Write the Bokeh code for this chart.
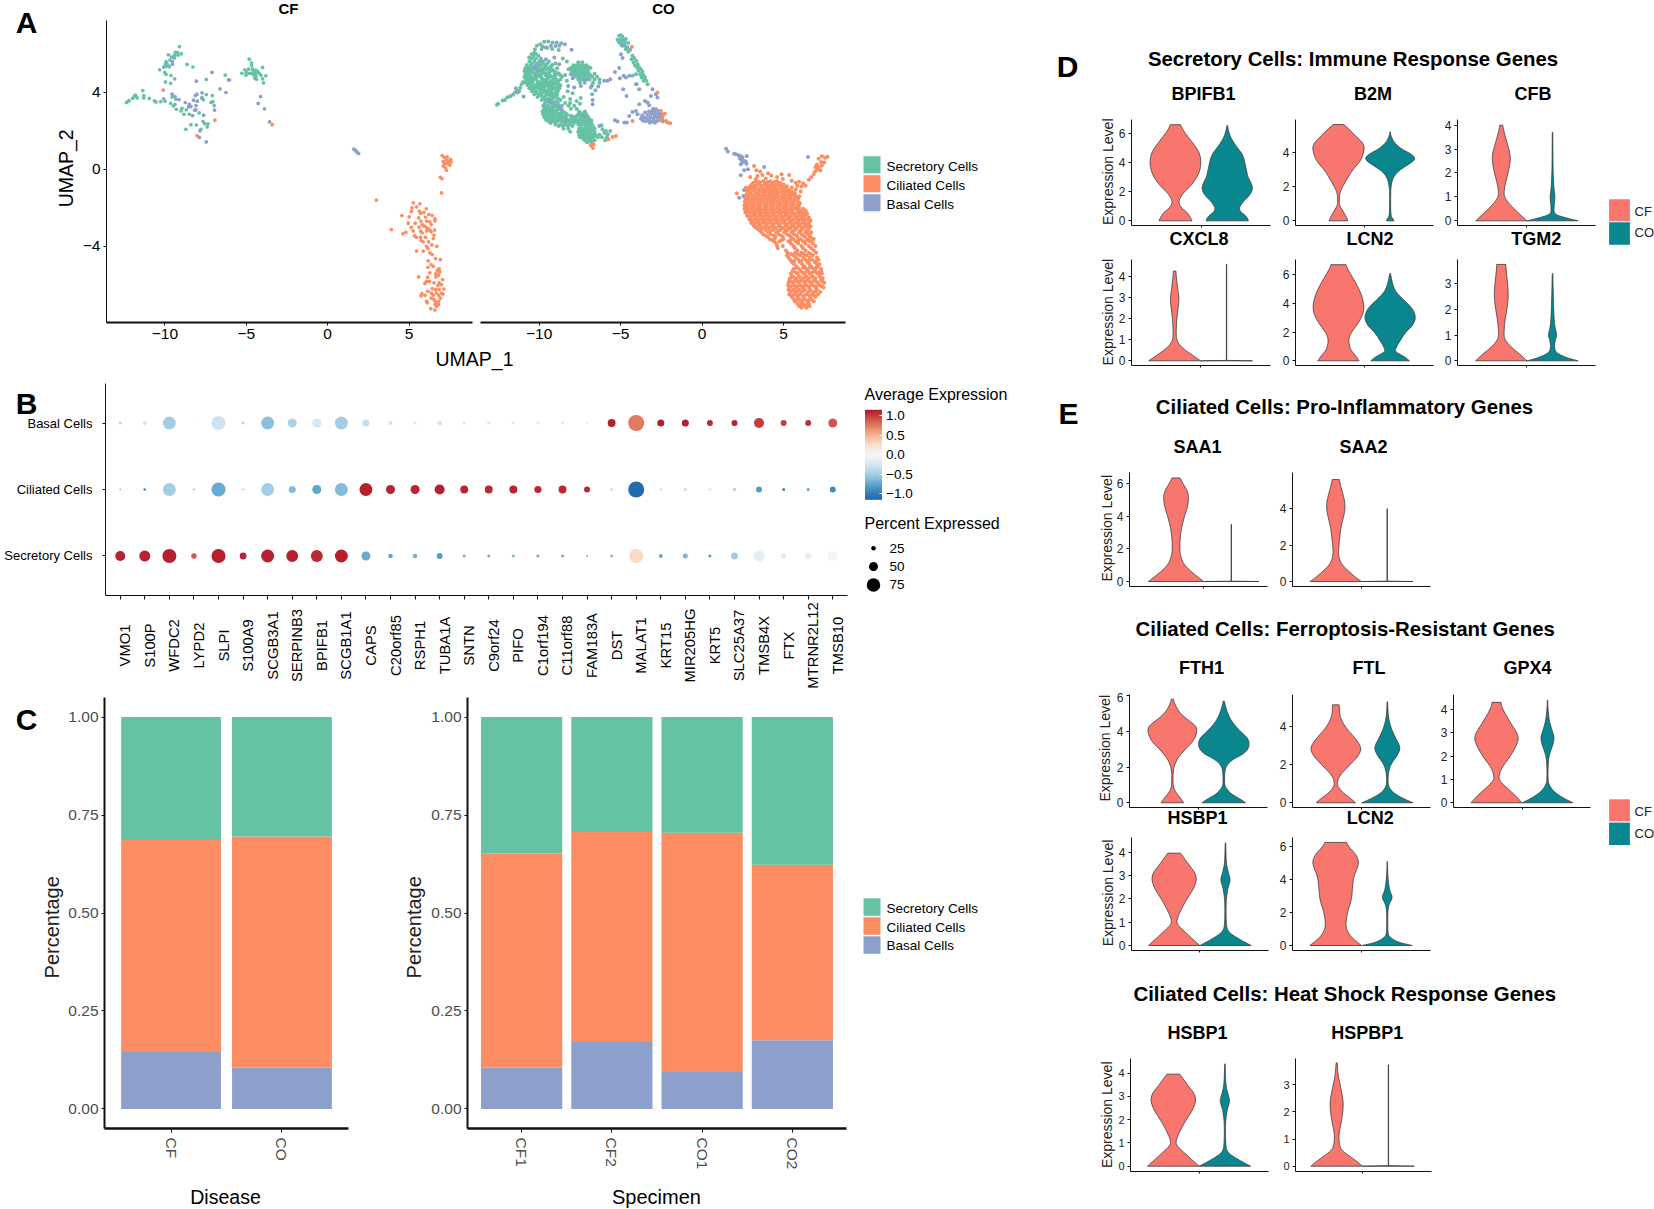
import math
from bokeh.embed import file_html
from bokeh.resources import INLINE
from bokeh.core.properties import value
from bokeh.layouts import column
from bokeh.models import (ColumnDataSource, ColorBar, FactorRange, FixedTicker,
                          LinearColorMapper, NumeralTickFormatter, Range1d)
from bokeh.palettes import RdBu11
from bokeh.plotting import figure

FONT = "Liberation Sans"
GREEN, ORANGE, BLUE = "#66C2A5", "#FC8D62", "#8DA0CB"
CF_COL, CO_COL = "#F8766D", "#0A878E"

# ------------------------------------------------------------ panel A: UMAP cells (UMAP_1, UMAP_2)
cf_secretory = [(-9.11,6.37),(-9.36,6.07),(-9.22,6.07),(-8.99,6.0),(-9.2,5.93),(-9.42,5.92),(-9.6,5.83),(-9.42,5.78),
 (-9.69,5.67),(-9.93,5.6),(-9.89,5.5),(-9.97,5.46),(-9.83,5.41),(-9.73,5.33),(-9.93,5.34),(-8.64,5.45),(-8.28,5.31),
 (-10.32,5.17),(-10.01,5.03),(-9.93,4.93),(-9.63,4.87),(-9.97,4.54),(-9.65,4.47),(-7.46,4.67),(-6.29,4.89),
 (-12.37,3.47),(-12.28,3.52),(-12.2,3.57),(-11.98,3.69),(-11.88,3.81),(-11.81,3.85),(-11.71,3.71),(-11.36,4.09),
 (-11.3,3.83),(-11.3,3.71),(-10.96,3.68),(-10.65,3.55),(-10.55,3.5),(-10.26,3.52),(-9.99,3.54),(-9.56,3.75),
 (-9.65,3.43),(-9.48,3.29),(-9.38,3.38),(-9.3,3.12),(-8.95,3.17),(-9.01,3.03),(-8.83,2.86),(-8.69,3.09),(-8.5,2.86),
 (-7.89,2.93),(-7.46,3.88),(-7.09,3.83),(-7.17,3.47),(-7.05,3.52),(-7.72,3.73),(-7.64,3.61),(-7.66,2.48),(-7.56,2.37),
 (-7.36,2.36),(-7.4,2.2),(-8.4,2.32),(-8.07,2.3),(-7.79,2.08),(-8.71,2.08),(-4.82,5.72),(-4.68,5.52),(-4.68,5.39),
 (-4.0,5.29),(-5.09,5.17),(-5.27,4.99),(-5.0,5.03),(-4.86,5.2),(-4.82,4.99),(-4.62,5.2),(-4.51,5.12),(-4.41,5.15),
 (-4.31,5.08),(-4.57,5.03),(-4.72,4.98),(-4.45,4.98),(-4.21,4.99),(-4.55,4.91),(-4.41,4.86),(-4.1,4.89),(-3.8,4.86),
 (-4.47,4.73),(-4.37,4.68),(-4.0,4.7),(-3.94,4.49),(-5.02,4.89)]
cf_basal = [(-9.79,5.95),(-9.54,5.6),(-9.54,5.46),(-10.08,5.31),(-9.4,4.7),(-8.07,4.58),(-7.11,5.03),(-6.09,4.65),(-6.03,4.65),
 (-6.62,4.18),(-6.25,3.99),(-9.56,3.9),(-10.08,3.66),(-9.38,3.78),(-9.32,3.64),(-9.13,3.62),(-7.72,3.97),(-8.03,3.9),
 (-8.13,3.83),(-8.24,3.59),(-8.01,3.54),(-7.72,3.69),(-8.75,3.47),(-8.5,3.38),(-8.4,3.26),(-8.54,3.24),(-8.09,3.31),
 (-8.17,3.07),(-8.09,3.09),(-8.3,2.79),(-7.62,2.81),(-6.97,3.31),(-6.95,3.07),(-7.85,1.99),(-7.89,1.66),(-7.46,1.42),
 (-4.12,3.78),(-4.27,3.42),(-3.88,3.14),(-3.57,2.46),(1.6,1.05),(1.7,1.0),(1.75,.95),(1.8,.9),(1.85,.85),(1.9,.82)]
cf_ciliated = [(-10.1,4.11),(-6.93,2.55),(-8.03,1.75),(-3.41,2.32),(7.04,.71),(7.18,.61),(7.34,.64),(7.55,.52),(7.45,.43),
 (7.3,.47),(7.1,.4),(7.59,.38),(7.38,.29),(7.18,.29),(7.51,.22),(7.1,.17),(7.24,.08),(7.3,-.05),(6.93,-.42),(7.02,-.49),
 (7.0,-1.23),(2.99,-1.6),(5.26,-1.74),(5.67,-1.79),(5.46,-1.95),(5.18,-2.0),(6.06,-2.05),(5.14,-2.19),(5.63,-2.17),
 (5.71,-2.28),(5.91,-2.24),(4.56,-2.4),(5.01,-2.47),(6.22,-2.35),(6.42,-2.4),(5.59,-2.52),(6.01,-2.48),(6.59,-2.57),
 (5.73,-2.69),(6.08,-2.69),(6.28,-2.73),(6.59,-2.68),(4.95,-2.8),(5.38,-2.8),(5.81,-2.87),(5.91,-2.94),(6.36,-2.87),
 (5.14,-3.02),(5.61,-3.0),(6.04,-3.0),(6.16,-3.07),(6.28,-3.16),(3.91,-3.13),(5.26,-3.2),(5.71,-3.21),(6.08,-3.21),
 (6.36,-3.25),(6.57,-3.16),(4.81,-3.27),(4.62,-3.35),(5.81,-3.3),(5.34,-3.46),(5.46,-3.53),(5.71,-3.53),(6.01,-3.53),
 (6.53,-3.42),(6.49,-3.6),(5.75,-3.7),(5.87,-3.77),(6.2,-3.77),(6.08,-4.0),(6.4,-3.93),(6.71,-4.0),(6.16,-4.12),
 (5.46,-4.25),(5.87,-4.25),(6.28,-4.34),(6.42,-4.43),(6.63,-4.64),(6.93,-4.69),(6.18,-4.76),(6.36,-4.95),(6.49,-5.04),
 (6.16,-5.09),(6.85,-5.16),(6.73,-5.26),(6.89,-5.33),(6.28,-5.38),(6.63,-5.43),(6.81,-5.5),(5.59,-5.59),(6.65,-5.59),
 (6.14,-5.61),(7.06,-5.73),(6.08,-5.82),(6.26,-5.82),(5.97,-5.94),(6.53,-5.9),(6.85,-5.9),(6.77,-6.04),(6.98,-5.99),
 (7.14,-6.22),(6.42,-6.2),(6.63,-6.25),(6.85,-6.25),(6.16,-6.34),(6.38,-6.43),(7.0,-6.43),(5.79,-6.46),(5.73,-6.58),
 (5.99,-6.55),(6.49,-6.55),(6.69,-6.43),(6.83,-6.55),(7.08,-6.48),(6.36,-6.69),(6.53,-6.77),(6.93,-6.69),(6.08,-6.86),
 (6.63,-6.89),(6.83,-6.86),(6.12,-6.93),(6.61,-7.03),(6.81,-7.03),(6.69,-7.12),(6.34,-7.24),(6.59,-7.31)]

co_secretory_rows = [
 (5.6,[-10.6,-10.3,-10.0,-9.75,-9.4]),(5.42,[-10.75,-10.5,-10.2,-9.9,-9.6,-9.2]),(5.25,[-10.85,-10.6,-10.4,-10.15,-9.75,-9.45,-8.9]),
 (5.1,[-10.9,-10.7,-10.5,-10.0,-9.8,-9.3,-9.1]),(4.97,[-10.85,-10.65,-10.25,-9.85,-9.65,-9.45,-9.05,-8.8]),
 (4.82,[-10.9,-10.7,-10.3,-10.1,-9.9,-9.5,-9.3,-9.1,-8.6]),(4.66,[-10.8,-10.6,-10.4,-10.2,-9.75,-9.55,-9.15,-8.95,-8.7]),
 (4.5,[-10.85,-10.65,-10.4,-9.95,-9.7,-9.45,-9.2,-9.0]),(4.37,[-10.7,-10.25,-10.0,-9.75,-9.5,-9.25,-8.7]),
 (4.21,[-10.6,-10.3,-10.05,-9.8,-9.3,-9.05,-8.75]),(4.06,[-10.45,-10.2,-9.9,-9.65,-9.4,-8.85]),(3.9,[-10.3,-10.0,-9.45,-9.15,-8.9]),
 (3.76,[-10.1,-9.75,-9.2,-8.95,-8.5]),(3.6,[-9.85,-9.6,-9.3,-8.7]),(3.45,[-9.65,-9.35,-9.1,-8.85,-8.4,-8.1]),
 (3.3,[-9.75,-9.5,-9.0,-8.6,-8.2,-7.85]),(3.15,[-9.7,-9.5,-9.25,-8.75,-8.05,-7.7]),(3.0,[-9.8,-9.55,-9.3,-9.05,-8.55,-7.55,-7.2]),
 (2.86,[-9.75,-9.5,-9.25,-8.8,-8.3,-7.6,-7.35,-7.1]),(2.71,[-9.7,-9.45,-9.2,-8.95,-8.7,-8.45,-7.9,-7.5,-7.25,-7.0]),
 (2.55,[-9.55,-9.3,-9.05,-8.75,-8.5,-8.2,-7.9,-7.6,-7.3,-7.05,-6.8]),(2.41,[-9.3,-9.0,-8.45,-8.15,-7.85,-7.55,-7.3,-7.05,-6.8]),
 (2.25,[-8.8,-8.55,-8.25,-7.95,-7.45,-7.15,-6.9,-6.7]),(2.1,[-8.5,-8.2,-7.55,-7.3,-7.05,-6.85,-6.6]),(1.95,[-8.1,-7.6,-7.35,-7.1,-6.85,-6.6]),
 (1.8,[-7.55,-7.3,-7.05,-6.8,-6.55,-6.3,-5.8]),(1.66,[-7.5,-7.2,-6.95,-6.7,-6.4,-6.15,-5.85]),(1.51,[-7.2,-6.9,-6.6,-5.95]),(1.4,[-7.05,-6.8]),
 (5.56,[-7.6,-7.35]),(5.41,[-7.9,-7.7,-7.5,-7.3,-7.1]),(5.26,[-8.05,-7.85,-7.65,-7.45,-7.25,-7.05,-6.85]),(5.11,[-8.0,-7.8,-7.6,-7.4,-7.2,-7.0]),
 (4.96,[-7.95,-7.75,-7.55,-7.35,-7.15,-6.95,-6.6]),(4.81,[-7.85,-7.65,-7.45,-7.25,-7.05,-6.75,-6.45]),(4.66,[-7.6,-7.4,-7.15,-6.9,-6.6,-6.3]),
 (4.5,[-7.5,-7.2,-6.7,-6.3]),(4.36,[-6.75]),
 (6.05,[-10.3]),(5.9,[-10.35,-10.05]),(5.75,[-10.45,-10.2,-9.9]),(5.5,[-10.45,-10.1,-9.8,-9.5,-9.0]),(5.33,[-10.7,-10.3,-10.0,-9.65,-9.3]),
 (5.18,[-10.8,-10.55,-10.25,-9.9,-9.55,-9.2]),(5.03,[-10.75,-10.4,-10.1,-9.7,-9.4,-8.95]),(4.89,[-10.8,-10.55,-10.2,-10.0,-9.6,-9.35,-9.0,-8.7]),
 (4.74,[-10.85,-10.5,-10.3,-9.85,-9.45,-9.05]),(4.58,[-10.75,-10.5,-10.1,-9.85,-9.6,-9.3,-8.85]),(4.44,[-10.55,-10.1,-9.85,-9.6,-9.35,-9.1,-8.85]),
 (4.29,[-10.45,-10.15,-9.9,-9.65,-9.4,-9.15,-8.9]),(4.13,[-10.4,-9.95,-9.7,-9.45,-9.2,-8.95]),(3.98,[-10.15,-9.8,-9.55,-9.25,-9.0]),
 (3.83,[-9.9,-9.6,-9.3,-9.05]),(3.68,[-9.7,-9.45,-9.15,-8.85]),(3.52,[-9.5,-9.2,-8.95]),(3.22,[-9.6,-9.35,-9.1,-8.85]),
 (3.08,[-9.65,-9.4,-9.15,-8.9,-8.65]),(2.93,[-9.65,-9.4,-9.15,-8.9,-8.65,-8.4,-7.45,-7.2]),(2.78,[-9.6,-9.35,-9.05,-8.8,-8.55,-8.3,-8.05,-7.7,-7.4,-7.15]),
 (2.63,[-9.6,-9.4,-9.15,-8.85,-8.6,-8.35,-8.05,-7.75,-7.45,-7.2,-6.95]),(2.48,[-9.4,-9.15,-8.9,-8.6,-8.3,-8.0,-7.7,-7.45,-7.2,-6.95]),
 (2.33,[-9.0,-8.7,-8.4,-8.1,-7.6,-7.3,-7.0]),(2.02,[-7.45,-7.2,-6.95,-6.7]),(1.87,[-7.4,-7.15,-6.9,-6.65]),(1.73,[-7.35,-7.1,-6.85,-6.55]),
 (1.58,[-7.3,-7.05,-6.8]),(5.33,[-7.8,-7.6,-7.4,-7.2,-7.0]),(5.18,[-7.95,-7.7,-7.5,-7.3,-7.1]),(5.03,[-7.9,-7.65,-7.45,-7.25,-7.05]),
 (4.88,[-7.7,-7.5,-7.3,-7.1,-6.85]),(4.73,[-7.5,-7.3,-7.0])]
co_secretory_extra = [(-12.59,3.35),(-12.51,3.41),(-12.24,3.57),(-12.1,3.6),(-11.94,3.74),(-11.77,3.8),(-11.61,3.87),(-11.49,3.99),
 (-11.36,4.06),(-11.22,4.07),(-11.16,4.23),(-11.08,4.42),(-10.98,4.54),(-10.26,6.24),(-10.14,6.42),(-9.93,6.5),(-9.69,6.63),
 (-9.44,6.64),(-9.18,6.59),(-10.46,5.98),(-10.61,5.81),(-10.2,6.0),(-9.85,6.25),(-9.5,6.3),(-9.2,6.25),(-9.0,6.4),(-8.8,6.2),
 (-8.65,6.55),(-8.3,5.6),(-8.55,5.75),(-8.2,5.2),(-8.4,4.9),(-8.3,4.6),(-8.25,4.05),(-7.95,3.95),(-8.1,3.65),(-7.45,3.7),(-7.5,3.4),
 (-6.75,3.9),(-6.55,4.1),(-7.7,3.55),(-5.09,6.94),(-4.98,6.97),(-4.88,6.89),(-5.19,6.73),(-5.03,6.73),(-4.84,6.73),(-4.68,6.77),
 (-5.09,6.59),(-4.92,6.59),(-4.74,6.59),(-4.53,6.56),(-4.94,6.45),(-4.74,6.42),(-4.68,6.24),(-4.53,6.1),(-4.41,6.21),(-4.27,5.9),
 (-4.33,5.72),(-4.17,5.78),(-4.21,5.55),(-4.04,5.64),(-4.12,5.41),(-3.96,5.46),(-3.86,5.29),(-4.0,5.29),(-3.76,5.2),(-3.9,5.12),
 (-3.66,5.06),(-3.8,4.94),(-3.59,4.89),(-3.72,4.77),(-3.51,4.77),(-3.59,4.6),(-3.43,4.6),(-3.35,4.42),(-4.06,4.94),(-4.27,4.86),
 (-4.02,4.42),(-6.17,2.29),(-6.0,1.9),(-5.9,1.99),(-5.64,1.99),(-5.8,1.82),(-6.11,2.08),(4.15,-1.0)]
co_basal = [(-9.79,6.38),(-9.59,6.33),(-9.28,6.42),(-8.93,6.59),(-8.77,6.42),(-8.42,6.5),(-8.01,6.21),(-9.89,5.64),(-9.59,5.72),
 (-9.07,5.81),(-10.2,5.29),(-10.1,5.12),(-8.77,5.46),(-8.05,4.94),(-7.95,4.73),(-8.22,4.33),(-7.23,4.6),(-7.03,4.68),(-7.44,4.33),
 (-7.85,4.25),(-6.83,4.25),(-6.37,4.3),(-6.01,4.6),(-5.8,4.6),(-5.64,4.68),(-5.09,5.26),(-5.35,5.06),(-5.05,4.73),(-4.82,4.86),
 (-4.68,4.77),(-4.47,4.86),(-4.84,4.16),(-4.64,3.81),(-4.88,6.42),(-4.58,6.33),(-4.98,5.98),(-4.88,5.78),(-11.43,4.21),(-11.32,3.99),
 (-10.96,3.78),(-9.42,3.55),(-9.18,3.35),(-8.77,3.29),(-8.62,3.12),(-6.72,3.38),(-6.72,3.6),(-7.23,2.77),(-8.36,2.51),(-6.31,2.25),
 (-5.35,2.55),(-5.19,2.48),(-4.78,2.43),(-4.62,2.43),(-4.47,2.77),(-4.27,2.98),(-4.06,3.03),(-3.96,2.86),(-3.86,3.38),(-3.51,3.55),
 (-3.35,3.47),(-3.25,3.33),(-3.14,3.81),(-2.84,3.9),(-2.74,3.73),(-3.86,4.16),(-4.06,4.42),(-3.04,4.16),
 (-3.75,2.62),(-3.68,2.8),(-3.62,2.52),(-3.55,2.7),(-3.5,2.95),(-3.45,2.5),(-3.38,2.62),(-3.33,2.82),(-3.26,3.0),(-3.22,2.52),
 (-3.16,2.7),(-3.1,2.88),(-3.05,3.05),(-3.02,2.48),(-2.98,2.62),(-2.92,2.78),(-2.88,2.95),(-2.82,3.12),(-2.8,2.5),(-2.76,2.68),
 (-2.7,2.85),(-2.66,3.02),(-2.62,2.55),(-2.58,2.72),(-2.52,2.9),(-2.46,2.6),(-2.42,2.48),(-3.0,3.15),(-3.2,2.42),(-2.9,2.42),
 (1.47,1.07),(1.58,.92),(1.96,.81),(2.07,.78),(2.23,.73),(2.37,.69),(2.31,.57),(2.48,.61),(2.43,.47),(2.58,.43),(2.68,.4),(2.48,.35),
 (2.72,.29),(2.37,.26),(2.82,-.0),(2.58,-.05),(2.74,.69),(2.37,-.31),(3.81,.12),(6.5,.64),(2.58,-1.08),(2.54,-1.39),(2.27,-1.48)]
co_ciliated_rows = [
 (-.62,[3.3,3.75,4.2,4.6]),(-.7,[3.15,3.55,3.95,4.4,4.8]),(-.79,[3.05,3.4,3.85,4.25,4.65,5.0]),(-.88,[2.95,3.3,3.7,4.1,4.5,4.9,5.2]),
 (-.97,[2.85,3.15,3.55,3.95,4.35,4.75,5.1]),(-1.06,[2.8,3.05,3.45,3.8,4.2,4.6,5.0,5.3]),(-1.15,[2.75,3.2,3.6,4.0,4.4,4.85,5.2,5.5]),
 (-1.24,[2.95,3.35,3.75,4.15,4.55,4.95,5.35,5.7]),(-1.33,[2.7,3.1,3.5,3.9,4.3,4.7,5.1,5.5]),(-1.42,[2.85,3.25,3.65,4.05,4.45,4.9,5.3,5.75]),
 (-1.51,[2.65,3.05,3.45,3.85,4.25,4.65,5.05,5.45,5.9]),(-1.6,[2.85,3.2,3.6,4.0,4.4,4.8,5.2,5.65]),(-1.69,[2.62,3.0,3.4,3.8,4.2,4.6,5.0,5.4,5.85]),
 (-1.78,[2.8,3.2,3.6,4.0,4.4,4.8,5.2,5.6,6.0]),(-1.87,[2.6,3.0,3.4,3.8,4.2,4.6,5.0,5.4,5.8]),(-1.96,[2.78,3.18,3.58,3.98,4.38,4.78,5.18,5.58,5.95]),
 (-2.05,[2.6,2.98,3.38,3.78,4.18,4.58,4.98,5.38,5.75,6.2]),(-2.14,[2.8,3.2,3.6,4.0,4.4,4.8,5.2,5.55,6.05,6.35]),(-2.23,[2.65,3.0,3.4,3.8,4.2,4.6,5.0,5.4,5.85,6.25]),
 (-2.32,[2.85,3.25,3.65,4.05,4.45,4.85,5.25,5.7,6.1,6.45]),(-2.41,[2.75,3.1,3.5,3.9,4.3,4.7,5.1,5.5,5.95,6.3]),(-2.5,[2.95,3.35,3.75,4.15,4.55,4.95,5.35,5.8,6.2,6.55]),
 (-2.59,[2.9,3.2,3.6,4.0,4.4,4.8,5.2,5.6,6.05,6.4]),(-2.68,[3.05,3.45,3.85,4.25,4.65,5.05,5.5,5.9,6.3,6.65]),(-2.78,[3.0,3.3,3.7,4.1,4.5,4.9,5.35,5.75,6.15,6.55]),
 (-2.87,[3.15,3.55,3.95,4.35,4.75,5.2,5.6,6.0,6.45]),(-2.96,[3.2,3.45,3.85,4.25,4.7,5.1,5.5,5.9,6.3,6.65]),(-3.06,[3.35,3.7,4.1,4.5,5.0,5.4,5.8,6.2,6.55]),
 (-3.16,[3.5,3.9,4.35,4.8,5.25,5.7,6.1,6.5]),(-3.27,[3.65,4.05,4.55,5.05,5.5,5.95,6.35,6.7]),(-3.38,[3.75,4.2,4.7,5.2,5.65,6.1,6.5]),
 (-3.5,[4.0,4.5,4.95,5.45,5.85,6.3,6.65]),(-3.62,[4.15,4.45,5.0,5.6,6.05,6.5,6.85]),(-3.74,[4.4,4.75,5.3,5.75,6.2,6.6]),(-3.86,[4.55,5.45,5.9,6.35,6.8]),
 (-3.98,[4.6,4.95,5.6,6.1,6.55,6.95]),(-4.1,[4.65,5.7,6.2,6.7]),(-4.22,[5.15,5.85,6.35,6.85]),(-4.34,[5.25,5.7,6.1,6.55,7.0]),(-4.46,[5.2,5.6,6.0,6.4,6.8]),
 (-4.58,[5.3,5.75,6.2,6.6,7.05]),(-4.7,[5.4,5.9,6.35,6.75,7.15]),(-4.82,[5.5,6.0,6.45,6.9]),(-4.94,[5.65,6.15,6.6,7.05,7.2]),(-5.06,[5.8,6.3,6.7,7.1]),
 (-5.18,[5.6,5.95,6.4,6.85,7.3]),(-5.3,[5.55,6.05,6.5,6.95,7.3]),(-5.42,[5.45,5.85,6.2,6.6,7.05,7.35]),(-5.54,[5.5,5.95,6.35,6.75,7.2]),
 (-5.66,[5.4,5.8,6.2,6.55,6.95,7.4]),(-5.78,[5.35,5.7,6.05,6.45,6.85,7.3]),(-5.9,[5.3,5.6,5.95,6.3,6.7,7.1,7.5]),(-6.02,[5.28,5.65,6.05,6.4,6.8,7.2]),
 (-6.14,[5.35,5.75,6.15,6.55,6.95,7.45]),(-6.26,[5.3,5.6,5.95,6.3,6.65,7.05]),(-6.38,[5.4,5.75,6.1,6.5,6.85,7.25]),(-6.5,[5.35,5.65,6.0,6.4,6.75,7.1]),
 (-6.62,[5.5,5.85,6.2,6.6,6.95]),(-6.74,[5.6,5.95,6.3,6.7]),(-6.86,[5.7,6.05,6.45,6.85]),(-6.98,[5.85,6.2,6.55]),(-7.1,[5.95,6.3,6.6]),(-7.2,[6.1,6.4]),
 (-.66,[3.5,4.05,4.45]),(-.84,[3.2,3.6,4.0,4.4,4.8]),(-1.01,[2.95,3.3,3.7,4.1,4.5,4.95]),(-1.19,[2.9,3.45,3.85,4.25,4.65,5.05,5.4]),
 (-1.37,[2.85,3.3,3.7,4.1,4.55,5.3,5.65]),(-1.55,[2.8,3.25,3.65,4.05,4.45,4.85,5.25,5.7]),(-1.73,[2.75,3.15,3.55,3.95,4.35,4.75,5.15,5.55,5.95]),
 (-1.91,[2.7,3.1,3.5,3.9,4.3,4.7,5.1,5.5,5.9]),(-2.09,[2.72,3.1,3.5,3.9,4.3,4.7,5.1,5.45,5.9]),(-2.27,[2.75,3.15,3.55,3.95,4.35,4.75,5.15,5.55,6.0,6.4]),
 (-2.45,[2.9,3.3,3.7,4.1,4.5,4.9,5.3,5.75,6.15]),(-2.63,[3.0,3.4,3.8,4.2,4.6,5.0,5.4,5.85,6.25,6.6]),(-2.82,[3.1,3.5,3.9,4.3,4.7,5.1,5.5,5.9,6.3]),
 (-3.01,[3.3,3.65,4.05,4.45,4.85,5.3,5.7,6.1,6.5]),(-3.21,[3.6,4.2,4.65,5.1,5.55,6.0,6.4]),(-3.44,[3.9,4.4,4.85,5.35,5.8,6.2,6.6]),(-3.68,[4.3,4.9,5.45,5.9,6.4,6.75]),
 (-4.4,[5.45,5.85,6.25,6.65]),(-4.76,[5.65,6.1,6.55,7.0]),(-5.12,[5.8,6.2,6.6,7.0]),(-5.36,[5.75,6.3,6.75,7.15]),(-5.6,[5.6,6.0,6.4,6.8,7.25]),
 (-5.84,[5.5,5.85,6.25,6.6,7.0,7.4]),(-6.08,[5.45,5.85,6.25,6.6,7.0,7.35]),(-6.32,[5.5,5.85,6.2,6.6,7.0]),(-6.56,[5.5,5.85,6.25,6.6,6.9]),(-6.8,[5.8,6.15,6.55]),(-7.04,[6.05,6.45])]
co_ciliated_extra = [(-6.83,1.24),(-6.66,1.3),(-6.7,1.1),(-5.76,1.56),(-5.5,1.68),(-5.29,1.73),(-4.31,6.37),(-4.27,2.51),(-2.74,3.99),
 (-2.53,3.03),(-2.29,2.89),(-2.43,2.74),(-2.53,2.56),(-2.22,2.51),(-2.12,2.43),(-1.96,2.39),(3.19,.17),(3.33,-.05),(3.56,-.12),(4.05,-.21),
 (4.87,-.26),(5.34,-.3),(2.95,-.4),(3.4,-.35),(3.7,-.3),(4.25,-.32),(4.6,-.4),(3.3,-.5),(3.9,-.48),(4.95,-.5),(5.5,-.6),(5.75,-.7),(5.95,-.65),
 (6.2,-.72),(5.85,-.85),(6.1,-.9),(6.35,-.85),(5.5,-.95),(5.75,-1.05),(6.05,-1.15),(5.6,-1.25),(5.95,-1.4),(2.13,-1.25),(2.68,-.96),(6.55,-.55),
 (6.7,-.4),(6.85,-.25),(6.95,-.1),(7.1,0),(6.95,.12),(7.05,.25),(7.3,.38),(7.15,.55),(7.35,.68),(7.55,.6),(7.7,.65),(7.5,.35),(7.35,.2),(7.15,.1),(7.25,-.05)]

# ------------------------------------------------------------ panel B: dot plot
genes = ["VMO1","S100P","WFDC2","LYPD2","SLPI","S100A9","SCGB3A1","SERPINB3","BPIFB1","SCGB1A1","CAPS","C20orf85","RSPH1","TUBA1A",
         "SNTN","C9orf24","PIFO","C1orf194","C11orf88","FAM183A","DST","MALAT1","KRT15","MIR205HG","KRT5","SLC25A37","TMSB4X","FTX",
         "MTRNR2L12","TMSB10"]
cell_types = ["Secretory Cells", "Ciliated Cells", "Basal Cells"]
secretory_pct = [56,61,78,30,78,38,72,66,66,72,50,25,25,33,17,17,17,17,17,11,17,78,22,28,17,39,61,33,33,56]
secretory_avg = [1.1,1.1,1.12,.9,1.12,1.1,1.12,1.12,1.08,1.12,-.72,-.75,-.68,-.8,-.68,-.7,-.65,-.7,-.7,-.65,-.62,.3,-.75,-.65,-.82,-.5,-.15,-.15,-.15,-.03]
ciliated_pct = [11,17,72,11,78,11,72,39,50,72,72,50,50,56,44,44,44,40,44,33,17,89,17,17,17,17,33,17,17,33]
ciliated_avg = [-.6,-.75,-.5,-.6,-.72,-.5,-.5,-.62,-.75,-.62,1.12,1.1,1.1,1.12,1.1,1.08,1.1,1.08,1.08,1.08,-.3,-1.12,-.2,-.35,-.2,-.5,-.8,-.9,-.75,-.9]
basal_pct = [17,22,72,11,78,17,72,50,50,72,39,22,17,28,17,17,17,17,17,11,44,89,39,39,33,33,56,33,33,50]
basal_avg = [-.4,-.3,-.5,-.05,-.3,-.4,-.6,-.45,-.25,-.5,-.35,-.3,-.25,-.25,-.25,-.25,-.25,-.22,-.22,-.2,1.12,.75,1.12,1.12,1.08,1.12,1.0,1.0,1.05,.9]
pct_legend = [25, 50, 75]
exp_ticks = [-1.0, -0.5, 0.0, 0.5, 1.0]

# ------------------------------------------------------------ panel C: cell-type fractions
diseases = ["CF", "CO"]
disease_basal = [.145, .106]
disease_ciliated = [.541, .589]
disease_secretory = [.314, .305]
specimens = ["CF1", "CF2", "CO1", "CO2"]
specimen_basal = [.1055, .171, .094, .175]
specimen_ciliated = [.5465, .536, .611, .448]
specimen_secretory = [.348, .293, .295, .377]

# ------------------------------------------------------------ panels D, E: violin outlines (expression level, relative width)
BPIFB1_CF = [(0,.64),(.5,.5),(.9,.22),(1.25,.12),(1.6,.18),(2,.35),(2.5,.65),(3.3,.93),(4.1,1),(4.8,.9),(5.5,.6),(6.2,.3),(6.6,.2)]
BPIFB1_CO = [(0,.82),(.3,.75),(.75,.42),(1.3,.6),(1.7,.85),(2.2,1),(2.7,.9),(3,.8),(3.5,.74),(4.5,.62),(5,.4),(5.5,.2),(6,.07),(6.55,.01)]
B2M_CF = [(0,.37),(.3,.28),(.8,.08),(1,.03),(1.5,.03),(1.9,.12),(2.5,.35),(3,.55),(3.5,.85),(4,.98),(4.5,1),(5,.65),(5.4,.4),(5.65,.21)]
B2M_CO = [(0,.15),(.1,.12),(.3,.02),(1.5,.02),(2,.03),(2.5,.1),(2.9,.3),(3.2,.6),(3.6,1),(3.9,.85),(4.2,.45),(4.6,.15),(5,.03),(5.22,.01)]
CFB_CF = [(0,1),(.3,.7),(.6,.4),(.9,.17),(1.1,.1),(1.5,.14),(2,.27),(2.6,.37),(3,.3),(3.5,.16),(3.9,.07),(4,.06)]
CFB_CO = [(0,1),(.1,.6),(.25,.12),(.4,.05),(.7,.07),(1,.1),(1.3,.06),(1.8,.03),(2.5,.015),(3.7,.01)]
CXCL8_CF = [(0,1),(.3,.65),(.6,.3),(.9,.1),(1.2,.05),(2,.08),(2.9,.18),(3.4,.12),(4,.06),(4.25,.05)]
CXCL8_CO = [(0,1),(.02,.006),(4.58,.006)]
LCN2_D_CF = [(0,.8),(.4,.65),(.8,.45),(1.5,.38),(2,.5),(2.7,.8),(3.5,1),(4.3,.95),(5,.8),(5.8,.55),(6.5,.32),(6.7,.3)]
LCN2_D_CO = [(0,.75),(.3,.55),(.6,.22),(.8,.2),(1.3,.35),(2,.6),(2.5,.9),(3.1,1),(3.7,.85),(4.2,.55),(4.8,.22),(5.3,.1),(6.1,.01)]
TGM2_CF = [(0,1),(.2,.8),(.5,.42),(.8,.15),(1,.1),(1.5,.13),(2,.22),(2.5,.28),(3,.25),(3.5,.19),(3.75,.18)]
TGM2_CO = [(0,1),(.1,.6),(.3,.15),(.5,.07),(.8,.1),(1,.18),(1.3,.09),(1.8,.05),(2.5,.03),(3.4,.01)]
SAA1_CF = [(0,1),(.2,.85),(.5,.62),(1,.3),(1.5,.17),(2,.13),(3,.16),(4,.3),(4.6,.42),(5.2,.46),(5.6,.4),(6,.25),(6.35,.15)]
SAA1_CO = [(0,1),(.02,.006),(3.5,.006)]
SAA2_CF = [(0,1),(.2,.8),(.5,.55),(.9,.25),(1.2,.15),(1.5,.1),(2,.12),(3,.2),(3.7,.33),(4.2,.37),(4.7,.3),(5.2,.2),(5.6,.14)]
SAA2_CO = [(0,1),(.02,.006),(4,.006)]
FTH1_CF = [(0,.44),(.2,.35),(.6,.12),(.9,.03),(1.5,.02),(2,.05),(2.5,.2),(3,.5),(3.5,.85),(4.2,1),(4.6,.65),(5,.3),(5.5,.1),(5.8,.04)]
FTH1_CO = [(0,.85),(.2,.65),(.5,.28),(.8,.1),(1,.03),(1.5,.03),(2,.06),(2.4,.3),(2.8,.85),(3.2,1),(3.6,.95),(4,.65),(4.5,.33),(5,.15),(5.5,.05),(5.7,.02)]
FTL_CF = [(0,.77),(.2,.6),(.5,.3),(.8,.1),(1,.05),(1.4,.12),(2,.55),(2.5,.9),(2.9,1),(3.4,.75),(3.9,.4),(4.5,.15),(5.14,.13)]
FTL_CO = [(0,1),(.2,.65),(.5,.25),(.8,.07),(1,.03),(1.5,.03),(2,.12),(2.5,.4),(2.9,.52),(3.4,.32),(4,.12),(4.6,.03),(5.3,.01)]
GPX4_CF = [(0,1),(.3,.75),(.6,.45),(.9,.15),(1.1,.08),(1.5,.2),(2,.55),(2.6,.85),(2.9,.85),(3.2,.68),(3.7,.4),(4.1,.2),(4.3,.18)]
GPX4_CO = [(0,1),(.2,.62),(.5,.22),(.8,.05),(1,.02),(1.5,.02),(2,.05),(2.5,.22),(2.8,.27),(3.1,.18),(3.5,.07),(4,.02),(4.4,.005)]
HSBP1_CF = [(0,1),(.3,.7),(.6,.4),(.9,.12),(1.1,.1),(1.5,.25),(2,.5),(2.5,.8),(3,.9),(3.5,.55),(3.96,.25)]
HSBP1_CO = [(0,1),(.2,.65),(.5,.2),(.7,.06),(1,.03),(1.5,.02),(2,.03),(2.5,.1),(2.8,.2),(3.1,.12),(3.5,.03),(4.4,.01)]
LCN2_E_CF = [(0,1),(.3,.75),(.7,.5),(1.2,.38),(2,.45),(2.8,.62),(3.5,.65),(4.2,.7),(5,.92),(5.5,.8),(6,.5),(6.25,.42)]
LCN2_E_CO = [(0,.97),(.2,.4),(.5,.1),(.7,.03),(1.2,.02),(2,.02),(2.5,.06),(2.9,.22),(3.3,.1),(3.8,.05),(4.3,.02),(5.1,.005)]
HSPBP1_CF = [(0,1),(.2,.75),(.4,.45),(.6,.18),(.8,.1),(1.2,.08),(1.7,.2),(2.3,.27),(2.8,.18),(3.3,.06),(3.8,.02)]
HSPBP1_CO = [(0,1),(.02,.006),(3.73,.006)]

# ------------------------------------------------------------ page frame helpers
PAGE_W, PAGE_H = 1654, 1209
figures = []

def place(fig, left, top):
    """left/top are page pixels of the figure box."""
    fig.styles = {"position": "absolute", "left": f"{left}px", "top": f"{top}px"}
    figures.append(fig)

overlay = figure(width=PAGE_W, height=PAGE_H, x_range=Range1d(0, PAGE_W), y_range=Range1d(PAGE_H+1.2, 1.2),
                 output_backend="svg", toolbar_location=None, min_border=0, outline_line_color=None,
                 border_fill_color=None, background_fill_color=None, frame_align=False)
overlay.xaxis.visible = False
overlay.yaxis.visible = False
overlay.grid.visible = False
place(overlay, 0, 0)

def label(x, y, text, size, bold=False, angle=0, color="#000000", align="center"):
    overlay.text(x=[x], y=[y], text=[text], text_font=value(FONT), text_font_size=value(f"{size}px"),
                 text_font_style="bold" if bold else "normal", text_color=color, angle=angle,
                 text_align=align, text_baseline="middle")

def swatches(x0, x1, y_tops, y_bots, colors):
    overlay.quad(left=x0, right=x1, top=y_tops, bottom=y_bots, fill_color=colors, line_color=None)

def panel(left, right, top, bottom, x_range, y_range, bl=40, bb=30, bt=2, br=4):
    f = figure(frame_width=int(round(right-left)), frame_height=int(round(bottom-top)), x_range=x_range, y_range=y_range,
               output_backend="svg", toolbar_location=None, min_border_left=bl, min_border_right=br,
               min_border_top=bt, min_border_bottom=bb, outline_line_color=None,
               border_fill_color=None, background_fill_color=None, frame_align=False)
    f.grid.visible = False
    place(f, left-bl, top-bt)
    return f

def style_axis(ax, size, color="#000000", line=1.0, tick=3):
    ax.axis_line_color = "#111111"
    ax.axis_line_width = line
    ax.major_tick_line_color = "#111111"
    ax.major_tick_out = tick
    ax.major_tick_in = 0
    ax.minor_tick_line_color = None
    ax.major_label_text_font = FONT
    ax.major_label_text_font_size = f"{size}px"
    ax.major_label_text_color = color
    ax.major_label_standoff = 3

# ------------------------------------------------------------ panel A
def rows_to_points(rows):
    return [(x, y) for y, xs in rows for x in xs]

def umap_panel(left, right, x0, x1, layers, show_y, size):
    p = panel(left, right, 20, 322, Range1d(x0, x1), Range1d(-7.96, 7.73), bl=42 if show_y else 2)
    for pts, col in layers:
        p.scatter([a for a, b in pts], [b for a, b in pts], size=size, fill_color=col, line_color=None)
    p.xaxis.ticker = FixedTicker(ticks=[-10, -5, 0, 5])
    p.xaxis.major_label_overrides = {-10: "\u221210", -5: "\u22125"}
    style_axis(p.xaxis[0], 15.5, line=2.2)
    p.yaxis.ticker = FixedTicker(ticks=[-4, 0, 4])
    p.yaxis.major_label_overrides = {-4: "\u22124"}
    style_axis(p.yaxis[0], 15.5)
    p.yaxis.visible = show_y
    return p

umap_panel(106, 472, -13.59, 8.9, [(cf_secretory, GREEN), (cf_basal, BLUE), (cf_ciliated, ORANGE)], True, 3.7)
umap_panel(480, 845, -13.6, 8.8, [(rows_to_points(co_secretory_rows) + co_secretory_extra, GREEN), (co_basal, BLUE),
                                   (rows_to_points(co_ciliated_rows) + co_ciliated_extra, ORANGE)], False, 4.0)
label(288, 9, "CF", 15, True)
label(663, 9, "CO", 15, True)
label(65, 169, "UMAP_2", 19.5, angle=math.pi/2)
label(474, 360, "UMAP_1", 19.5)
cell_legend = ["Secretory Cells", "Ciliated Cells", "Basal Cells"]
cell_colors = [GREEN, ORANGE, BLUE]
swatches(863, 880, [157, 176, 195], [174, 193, 212], cell_colors)
for yy, t in zip([167, 186, 205], cell_legend):
    label(886, yy, t, 13.5, align="left")
swatches(863, 880, [899, 918, 937], [916.5, 935.5, 954.5], cell_colors)
for yy, t in zip([909, 927.7, 946.6], cell_legend):
    label(886, yy, t, 13.5, align="left")

# ------------------------------------------------------------ panel B
n_pal = 256
def blend_palette(base, n):
    rgb = [tuple(int(c[i:i+2], 16) for i in (1, 3, 5)) for c in base]
    out = []
    for k in range(n):
        t = k/(n-1)*(len(rgb)-1)
        i = min(int(t), len(rgb)-2)
        f = t-i
        out.append("#%02x%02x%02x" % tuple(int(round(rgb[i][j]+(rgb[i+1][j]-rgb[i][j])*f)) for j in range(3)))
    return out

mapper = LinearColorMapper(palette=blend_palette(list(RdBu11)[1:-1], n_pal), low=-1.15, high=1.15)
dot_x = genes*3
dot_y = [c for c in cell_types for _ in genes]
dot_pct = secretory_pct + ciliated_pct + basal_pct
dot_avg = secretory_avg + ciliated_avg + basal_avg
dot_src = ColumnDataSource(dict(gene=dot_x, cell=dot_y, size=[v*0.18 for v in dot_pct], avg=dot_avg))
dp = panel(105, 847, 383, 595, FactorRange(factors=genes, range_padding=0.1, range_padding_units="absolute"),
           FactorRange(factors=cell_types, range_padding=0.094, range_padding_units="absolute"), bl=105, bb=12)
dp.scatter("gene", "cell", size="size", source=dot_src, line_color=None,
           fill_color={"field": "avg", "transform": mapper})
style_axis(dp.yaxis[0], 13)
dp.yaxis.major_label_standoff = 10
style_axis(dp.xaxis[0], 13, line=1.2, tick=4)
dp.xaxis.major_label_text_color = None
dp.xaxis.major_label_text_font_size = "0px"
# gene names: own strip below the dots, on the same factor scale
gp = panel(105, 847, 600, 690, FactorRange(factors=genes, range_padding=0.1, range_padding_units="absolute"), Range1d(0, 1), bl=2, bb=2)
gp.xaxis.visible = False
gp.yaxis.visible = False
gp.text(x=genes, y=[0.5]*len(genes), text=genes, angle=math.pi/2, x_offset=5, text_align="center", text_baseline="middle",
        text_font=value(FONT), text_font_size=value("14.8px"), text_color="#000000")
label(864, 395, "Average Expression", 16, align="left")
label(864, 524, "Percent Expressed", 16, align="left")
cb = ColorBar(color_mapper=mapper, location=(864.5, 1209-499.3), width=17, height=90, padding=0, margin=0,
              ticker=FixedTicker(ticks=exp_ticks), major_label_overrides={-1.0: "\u22121.0", -0.5: "\u22120.5", 0.0: "0.0", 0.5: "0.5", 1.0: "1.0"},
              major_label_text_font=FONT, major_label_text_font_size="13.5px", major_label_text_color="#000000",
              major_tick_line_color="#ffffff", major_tick_out=0, major_tick_in=3, minor_tick_line_color=None,
              bar_line_color=None, border_line_color=None, background_fill_color=None, label_standoff=4)
overlay.add_layout(cb)
overlay.scatter([873]*3, [549, 567.3, 585.6], size=[v*0.18 for v in pct_legend], fill_color="#000000", line_color=None)
for yy, v in zip([549, 567.3, 585.6], pct_legend):
    label(889, yy, str(v), 13.5, align="left")

# ------------------------------------------------------------ panel C
def stacked_panel(left, right, top, bottom, cats, basal, ciliated, secretory, pad):
    p = panel(left, right, top, bottom, FactorRange(factors=cats, range_padding=pad, range_padding_units="absolute"),
              Range1d(-0.05, 1.05), bl=48, bb=50)
    src = ColumnDataSource(dict(cat=cats, basal=basal, ciliated=ciliated, secretory=secretory))
    p.vbar_stack(["basal", "ciliated", "secretory"], x="cat", width=0.9, source=src,
                 fill_color=[BLUE, ORANGE, GREEN], line_color=None)
    p.yaxis.ticker = FixedTicker(ticks=[0, .25, .5, .75, 1])
    p.yaxis.formatter = NumeralTickFormatter(format="0.00")
    style_axis(p.yaxis[0], 15.5, color="#4D4D4D", line=2.0)
    style_axis(p.xaxis[0], 15.5, color="#4D4D4D", line=2.4, tick=4)
    p.xaxis.major_label_orientation = "vertical"
    p.xaxis.major_label_standoff = 5
    return p

stacked_panel(103.6, 347.7, 697, 1127.7, diseases, disease_basal, disease_ciliated, disease_secretory, 0.1)
stacked_panel(467.4, 846, 697, 1128, specimens, specimen_basal, specimen_ciliated, specimen_secretory, 0.1)
label(225, 1198, "Disease", 19.5)
label(656, 1198, "Specimen", 20)
label(51, 928, "Percentage", 20, angle=math.pi/2, color="#222222")
label(413, 928, "Percentage", 20, angle=math.pi/2, color="#222222")

# ------------------------------------------------------------ panels D, E
def smooth(profile, rounds=3):
    pts = list(profile)
    if len(pts) < 4:
        return pts
    for _ in range(rounds):
        out = [pts[0]]
        for a, b in zip(pts[:-1], pts[1:]):
            out.append((.75*a[0]+.25*b[0], .75*a[1]+.25*b[1]))
            out.append((.25*a[0]+.75*b[0], .25*a[1]+.75*b[1]))
        out.append(pts[-1])
        pts = out
    return pts

def violin_panel(left, right, top, bottom, c1, c2, zero, unit, ticks, cf, co, size=12):
    u = c2-c1
    p = panel(left, right, top, bottom, Range1d(1-(c1-left)/u, 2+(right-c2)/u),
              Range1d(-(bottom-zero)/unit, (zero-top)/unit), bl=24, bb=8)
    for center, prof, col in ((1, cf, CF_COL), (2, co, CO_COL)):
        pts = smooth(prof)
        xs = [center-0.5*w for lv, w in pts] + [center+0.5*w for lv, w in reversed(pts)]
        ys = [lv for lv, w in pts] + [lv for lv, w in reversed(pts)]
        p.patch(xs, ys, fill_color=col, line_color="#3a3a3a", line_width=0.8)
    p.yaxis.ticker = FixedTicker(ticks=ticks)
    p.xaxis.ticker = FixedTicker(ticks=[1.5])
    p.xaxis.major_label_overrides = {1.5: ""}
    style_axis(p.yaxis[0], size, color="#222222", line=1.0, tick=3)
    style_axis(p.xaxis[0], size, line=1.2, tick=2)
    return p

# row: (left, right, c1, c2, zero-line, px per unit, ticks, CF, CO)
violin_panel(1131.4, 1270.2, 119.3, 225.7, 1175.3, 1227, 221, 14.62, [0,2,4,6], BPIFB1_CF, BPIFB1_CO)
violin_panel(1294.9, 1433.3, 119.3, 225.7, 1338, 1389.8, 221, 17.1, [0,2,4], B2M_CF, B2M_CO)
violin_panel(1456.9, 1595.3, 119.3, 225.7, 1500.8, 1552.2, 221, 24, [0,1,2,3,4], CFB_CF, CFB_CO)
violin_panel(1130.6, 1269.4, 259.3, 365.7, 1173.7, 1225.5, 361, 21.2, [0,1,2,3,4], CXCL8_CF, CXCL8_CO)
violin_panel(1294.9, 1433.3, 259.3, 365.7, 1338, 1389.8, 361, 14.4, [0,2,4,6], LCN2_D_CF, LCN2_D_CO)
violin_panel(1456.9, 1595.3, 259.3, 365.7, 1500.8, 1552.2, 361, 25.8, [0,1,2,3], TGM2_CF, TGM2_CO)
violin_panel(1129.4, 1267.5, 471.7, 585.7, 1176, 1231.3, 580.7, 16.3, [0,2,4,6], SAA1_CF, SAA1_CO)
violin_panel(1292, 1430, 471.7, 585.7, 1335.3, 1386.7, 580.7, 18.2, [0,2,4], SAA2_CF, SAA2_CO)
violin_panel(1128.6, 1266.3, 694, 806.7, 1171.4, 1222.7, 802, 17.8, [0,2,4,6], FTH1_CF, FTH1_CO)
violin_panel(1292, 1429.8, 694, 806.7, 1335.3, 1386.7, 802, 19, [0,2,4], FTL_CF, FTL_CO)
violin_panel(1453, 1590, 694, 806.7, 1496, 1547, 802, 23.3, [0,1,2,3,4], GPX4_CF, GPX4_CO)
violin_panel(1130.6, 1267.8, 837.3, 950, 1173.3, 1224.7, 945, 23.25, [0,1,2,3,4], HSBP1_CF, HSBP1_CO)
violin_panel(1292, 1429.5, 837.3, 950, 1335, 1386.4, 945, 16.45, [0,2,4,6], LCN2_E_CF, LCN2_E_CO)
violin_panel(1129.8, 1267.5, 1058.3, 1171.3, 1172.5, 1224, 1166, 23.25, [0,1,2,3,4], HSBP1_CF, HSBP1_CO, size=11)
violin_panel(1294.5, 1430.6, 1058.3, 1171.3, 1335.7, 1387.5, 1166, 27.2, [0,1,2,3], HSPBP1_CF, HSPBP1_CO, size=11)

for x, y, t in [(1352.5, 59.3, "Secretory Cells: Immune Response Genes"), (1344, 407.3, "Ciliated Cells: Pro-Inflammatory Genes"),
                (1344.7, 629.3, "Ciliated Cells: Ferroptosis-Resistant Genes"), (1344.3, 994.7, "Ciliated Cells: Heat Shock Response Genes")]:
    label(x, y, t, 20.4, True)
for x, y, t in [(1203, 94.3, "BPIFB1"), (1372.5, 94.3, "B2M"), (1532.5, 94.3, "CFB"), (1198.4, 240, "CXCL8"), (1369.4, 240, "LCN2"),
                (1535.7, 240, "TGM2"), (1196.9, 447.3, "SAA1"), (1363, 447.3, "SAA2"), (1201, 668.3, "FTH1"), (1368.6, 668.3, "FTL"),
                (1527, 668.3, "GPX4"), (1197, 818.7, "HSBP1"), (1369.8, 818.7, "LCN2"), (1197, 1033.3, "HSBP1"), (1366.7, 1033.3, "HSPBP1")]:
    label(x, y, t, 18, True)
for x, y in [(1107.8, 172.5), (1107.5, 312.8), (1106.7, 529), (1104.7, 749), (1107.5, 893.7), (1106.7, 1115.5)]:
    label(x, y, "Expression Level", 14, angle=math.pi/2, color="#222222")
for ys in ([200, 223], [800, 823.3]):
    swatches(1608.6, 1629.4, ys, [ys[0]+22, ys[1]+22.4], [CF_COL, CO_COL])
    label(1634, ys[0]+11.7, "CF", 13, align="left", color="#222222")
    label(1634, ys[1]+10.5, "CO", 13, align="left", color="#222222")
for x, y, t in [(26, 23, "A"), (26, 404, "B"), (26, 720, "C"), (1067, 67, "D"), (1068, 414, "E")]:
    label(x, y, t, 30, True)

root = column(*figures, width=PAGE_W, height=PAGE_H, styles={"position": "absolute", "left": "0px", "top": "0px"})
open("out.html", "w").write(file_html(root, INLINE))
